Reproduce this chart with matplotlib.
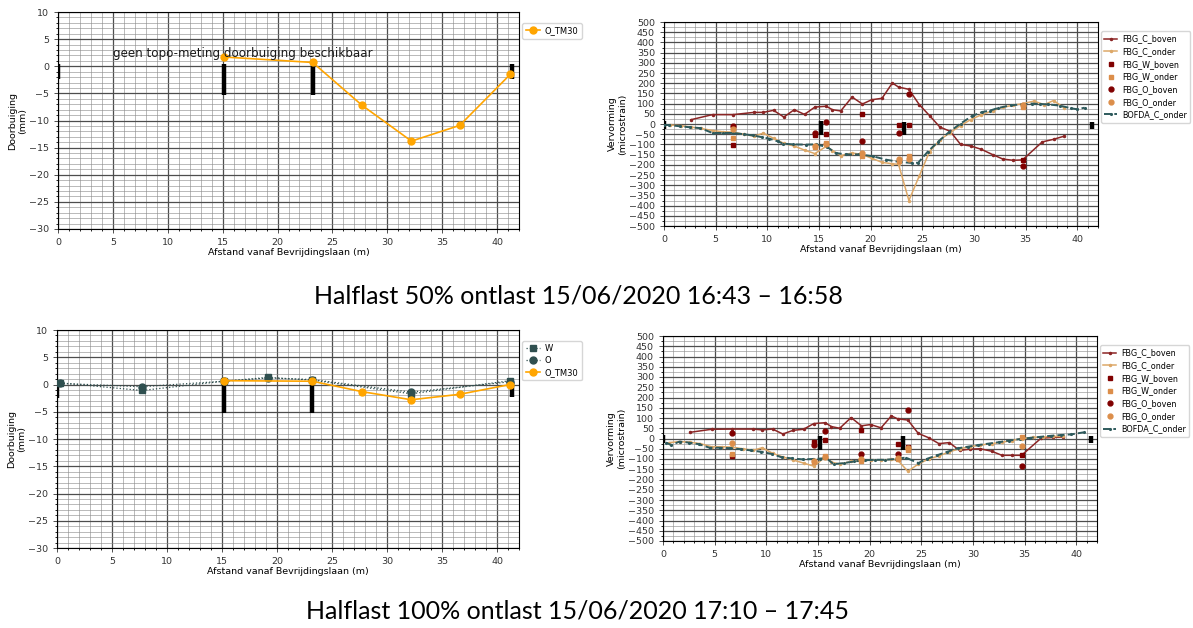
import matplotlib
matplotlib.use('Agg')
import matplotlib.pyplot as plt
from matplotlib.ticker import MultipleLocator

# --- doorbuiging (mm) ---
tm30_x = [15.15, 23.2, 27.7, 32.2, 36.6, 41.2]
tm30_50 = [1.7, 0.7, -7.2, -13.8, -10.9, -1.5]
tm30_100 = [0.7, 0.6, -1.3, -2.8, -1.8, 0.0]

topo_x = [0.3, 7.7, 15.15, 19.2, 23.2, 32.2, 41.2]
w_100 = [0.3, -1.1, 0.6, 1.3, 0.8, -1.7, 0.7]
o_100 = [0.2, -0.4, 0.6, 1.2, 0.9, -1.4, 0.5]

# --- vervorming (microstrain) ---
c_boven_x = [2.6, 4.7, 6.7, 8.7, 9.6, 10.6, 11.6, 12.6, 13.6, 14.6, 15.7, 16.3,
             17.1, 18.2, 19.2, 20.1, 21.1, 22.1, 22.7, 23.7, 24.7, 25.7, 26.7,
             27.7, 28.7, 29.7, 30.7, 31.8, 32.8, 33.8, 34.7, 36.6, 37.7, 38.7]
c_boven_50 = [21, 46, 46, 57, 57, 67, 34, 70, 47, 83, 87, 70, 64, 132, 98, 119,
              126, 201, 181, 170, 95, 41, -15, -36, -100, -108, -124, -150,
              -172, -178, -176, -88, -75, -60]
c_boven_100 = [30, 45, 46, 46, 42, 46, 22, 40, 45, 73, 77, 58, 50, 102, 62, 68,
               52, 110, 96, 90, 25, 4, -25, -20, -58, -52, -50, -62, -82, -82,
               -82, 2, 5, 7]

c_onder_x = [0.6, 1.6, 2.6, 3.6, 4.7, 5.7, 6.7, 7.7, 8.7, 9.6, 10.6, 11.6, 12.6,
             13.6, 14.6, 15.7, 16.3, 17.1, 18.2, 19.2, 20.1, 21.1, 22.1, 22.7,
             23.7, 24.7, 25.7, 26.7, 27.7, 28.7, 29.7, 30.7, 31.8, 32.8, 33.8,
             34.7, 35.8, 36.8, 37.7, 38.7]
c_onder_50 = [-5, -8, -15, -22, -32, -38, -40, -50, -60, -45, -70, -95, -108,
              -128, -145, -110, -130, -155, -142, -150, -168, -188, -195, -198,
              -375, -255, -135, -78, -42, -8, 22, 45, 65, 82, 92, 100, 112, 95,
              115, 80]
c_onder_100 = [-20, -15, -18, -25, -40, -40, -42, -50, -58, -45, -72, -90, -105,
               -120, -135, -90, -115, -125, -112, -110, -105, -105, -102, -105,
               -160, -125, -100, -85, -65, -50, -40, -32, -25, -18, -10, 0, 5,
               8, 10, 10]

bofda_x_50 = [0, 0.5, 1.5, 2.5, 3.5, 4.7, 5.7, 6.7, 7.7, 8.6, 9.5, 10.2, 11.0,
              11.5, 12.5, 13.7, 14.7, 15.8, 16.6, 17.6, 18.9, 20.2, 21.5, 22.8,
              24.0, 24.6, 25.5, 26.5, 27.6, 28.7, 29.8, 30.8, 31.5, 32.3, 33.6,
              34.6, 35.6, 36.4, 37.2, 38.3, 39.4, 40.0, 40.7]
bofda_50 = [-5, -5, -11, -16, -20, -44, -44, -44, -50, -56, -65, -72, -85, -96,
            -100, -101, -100, -113, -142, -149, -149, -158, -175, -186, -191,
            -190, -137, -88, -39, 2, 39, 59, 65, 78, 92, 96, 100, 98, 96, 90,
            77, 72, 80]
bofda_x_100 = [0.3, 0.8, 1.6, 2.5, 3.5, 4.5, 5.5, 6.5, 7.5, 8.5, 9.5, 10.5,
               11.5, 12.5, 13.5, 14.5, 15.2, 15.8, 16.5, 17.5, 18.5, 19.5, 20.5,
               21.5, 22.5, 23.5, 24.7, 25.5, 26.5, 27.5, 28.5, 29.5, 30.5, 31.5,
               32.5, 33.5, 34.5, 35.5, 36.5, 37.5, 38.5, 39.5, 40.7]
bofda_100 = [-20, -32, -15, -20, -28, -45, -45, -47, -52, -58, -65, -75, -92,
             -97, -102, -100, -98, -95, -125, -120, -112, -106, -104, -104,
             -100, -93, -120, -100, -82, -65, -48, -40, -32, -25, -18, -10, -3,
             3, 8, 13, 17, 20, 30]

pt_x = [6.7, 14.6, 15.7, 19.2, 22.7, 23.7, 34.7]
w_boven_50 = [-105, -55, -50, 48, -5, -5, -175]
o_boven_50 = [-10, -45, 8, -85, -45, 145, -205]
w_onder_50 = [-70, -115, -95, -155, -180, -158, 85]
o_onder_50 = [-25, -110, -100, -140, -170, -172, 95]
w_boven_100 = [-85, -18, -8, 42, -25, -40, -80]
o_boven_100 = [27, -32, 38, -75, -77, 140, -135]
w_onder_100 = [-78, -115, -87, -112, -100, -58, 5]
o_onder_100 = [-22, -108, -90, -100, -95, -48, -38]

# steunpunten (zwarte balken): x, onder, boven
steun_x_mm = [0, 15.15, 23.2, 41.4]
steun_lo_mm = [-2.4, -5.3, -5.3, -2.3]
steun_hi_mm = [0.4, 0.4, 0.0, 0.5]
steun_x_ms = [0, 15.2, 23.2, 41.4]
steun_lo_ms = [-23, -56, -56, -24]
steun_hi_ms = [15, 13, 10, 10]

captions = ['Halflast 50% ontlast 15/06/2020 16:43 \u2013 16:58',
            'Halflast 100% ontlast 15/06/2020 17:10 \u2013 17:45']

W, H = 1193, 628
FS = 6.8
ORANJE = '#FFA500'
GRIJS = '#2F4F4F'
ROOD = '#800000'
ROOD_LIJN = '#8B2525'
TAN = '#DDA868'
PERU = '#DC8E4A'
TEAL = '#2E5A5C'


def axes_px(fig, l, t, r, b):
    return fig.add_axes([l / W, 1 - b / H, (r - l) / W, (b - t) / H])


def style(ax, ymin, ymax, ymaj, ymin_step, ylabel):
    ax.set_xlim(0, 42)
    ax.set_ylim(ymin, ymax)
    ax.xaxis.set_major_locator(MultipleLocator(5))
    ax.xaxis.set_minor_locator(MultipleLocator(1))
    ax.yaxis.set_major_locator(MultipleLocator(ymaj))
    ax.yaxis.set_minor_locator(MultipleLocator(ymin_step))
    ax.grid(which='major', color='0.3', lw=0.9)
    ax.grid(which='minor', color='0.55', lw=0.6, alpha=0.7)
    ax.tick_params(labelsize=FS, length=3, width=0.6, colors='0.2')
    ax.tick_params(which='minor', length=1.5)
    ax.set_xlabel('Afstand vanaf Bevrijdingslaan (m)', fontsize=FS, labelpad=1)
    ax.set_ylabel(ylabel, fontsize=FS, labelpad=1)
    for s in ax.spines.values():
        s.set_linewidth(0.8)


def doorbuiging(ax, topo=None):
    style(ax, -30, 10, 5, 1, 'Doorbuiging\n(mm)')
    ax.vlines(steun_x_mm, steun_lo_mm, steun_hi_mm, color='k', lw=3.2, zorder=3)
    if topo is not None:
        ax.plot(topo_x, topo[0], ':s', color=GRIJS, ms=5, lw=0.9, label='W', zorder=4)
        ax.plot(topo_x, topo[1], ':o', color=GRIJS, ms=5, lw=0.9, label='O', zorder=4)
        tm = tm30_100
    else:
        tm = tm30_50
    ax.plot(tm30_x, tm, '-o', color=ORANJE, ms=5, lw=1.2, label='O_TM30', zorder=5)
    ax.legend(loc='upper left', bbox_to_anchor=(1.0, 0.965), fontsize=6,
              handlelength=1.7, handletextpad=0.6, borderpad=0.4,
              labelspacing=0.35, borderaxespad=0.4)


def vervorming(ax, cb, co, bx, bo, wb, ob, wo, oo):
    style(ax, -500, 500, 50, 25, 'Vervorming\n(microstrain)')
    ax.vlines(steun_x_ms, steun_lo_ms, steun_hi_ms, color='k', lw=3.2, zorder=3)
    ax.plot(c_boven_x, cb, '-', marker='.', ms=3, color=ROOD_LIJN, lw=1.1,
            label='FBG_C_boven', zorder=4)
    ax.plot(c_onder_x, co, '-', marker='.', ms=3, color=TAN, lw=1.1,
            label='FBG_C_onder', zorder=4)
    ax.plot(pt_x, wb, 's', color=ROOD, ms=3.5, label='FBG_W_boven', zorder=5)
    ax.plot(pt_x, wo, 's', color=PERU, ms=3.5, label='FBG_W_onder', zorder=5)
    ax.plot(pt_x, ob, 'o', color=ROOD, ms=3.5, label='FBG_O_boven', zorder=5)
    ax.plot(pt_x, oo, 'o', color=PERU, ms=3.5, label='FBG_O_onder', zorder=5)
    ax.plot(bx, bo, '--', marker='.', ms=2.5, color=TEAL, lw=1.4,
            label='BOFDA_C_onder', zorder=4)
    ax.legend(loc='upper left', bbox_to_anchor=(1.0, 0.97), fontsize=5.8,
              handlelength=1.6, handletextpad=0.6, borderpad=0.4,
              labelspacing=0.45, borderaxespad=0.4)


def main():
    plt.rcParams['font.family'] = ['DejaVu Sans']
    fig = plt.figure(figsize=(W / 100, H / 100), dpi=100)

    ax1 = axes_px(fig, 58, 12, 519, 229)
    doorbuiging(ax1)
    ax1.text(5, 2.3, 'geen topo-meting doorbuiging beschikbaar', fontsize=8.6,
             va='center', ha='left', color='0.1', zorder=6)

    ax2 = axes_px(fig, 664, 22, 1098, 226)
    vervorming(ax2, c_boven_50, c_onder_50, bofda_x_50, bofda_50,
               w_boven_50, o_boven_50, w_onder_50, o_onder_50)

    ax3 = axes_px(fig, 57, 330, 519, 548)
    doorbuiging(ax3, topo=(w_100, o_100))

    ax4 = axes_px(fig, 663, 336, 1097, 541)
    vervorming(ax4, c_boven_100, c_onder_100, bofda_x_100, bofda_100,
               w_boven_100, o_boven_100, w_onder_100, o_onder_100)

    fig.text(578 / W, 1 - 296 / H, captions[0], family='Lato', fontsize=18,
             ha='center', va='center')
    fig.text(578 / W, 1 - 611 / H, captions[1], family='Lato', fontsize=18,
             ha='center', va='center')

    fig.savefig('out.png', dpi=100)


if __name__ == '__main__':
    main()
